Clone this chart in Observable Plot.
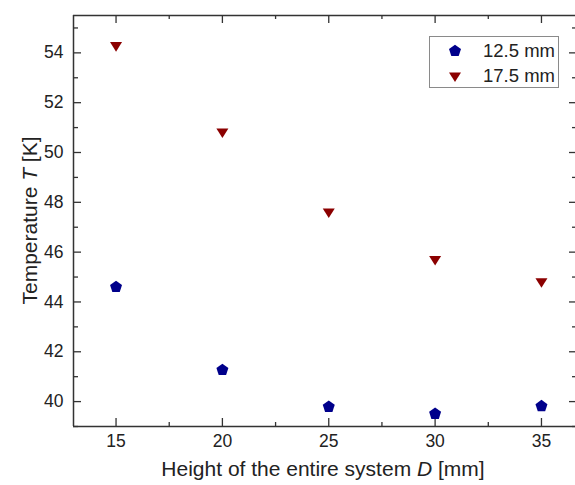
<!DOCTYPE html>
<html>
<head>
<meta charset="utf-8">
<script src="https://cdn.jsdelivr.net/npm/d3@7"></script>
<script src="https://cdn.jsdelivr.net/npm/@observablehq/plot@0.6"></script>
<style>
  html, body { margin: 0; padding: 0; background: #fff; }
  #wrap { position: relative; width: 575px; height: 485px; font-family: "Liberation Sans", Arial, sans-serif; }
  #legend { position: absolute; left: 429px; top: 36px; width: 128px; height: 50px; border: 1px solid #8a8a8a; background: #fff; }
  #legend .row { position: absolute; left: 0; height: 24px; display: flex; align-items: center; font-size: 18.5px; color: #222; }
  #legend svg { position: absolute; left: 16px; }
  #legend span { position: absolute; left: 53px; white-space: nowrap; }
</style>
</head>
<body>
<div id="wrap"></div>
<script>
// Data
const heights = [15, 20, 25, 30, 35];
const temp125 = [44.6, 41.27, 39.79, 39.51, 39.82];
const temp175 = [54.29, 50.82, 47.61, 45.70, 44.81];
const seriesNames = ["12.5 mm", "17.5 mm"];
const xTicks = [15, 20, 25, 30, 35];
const xMinor = [17.5, 22.5, 27.5, 32.5];
const yTicks = [40, 42, 44, 46, 48, 50, 52, 54];
const yMinor = [39, 41, 43, 45, 47, 49, 51, 53, 55];

const blue = "#00008b";
const red = "#8b0000";
const axisColor = "#333";

const pentagon = {
  draw(context, size) {
    const r = Math.sqrt(size / Math.PI);
    for (let k = 0; k < 5; k++) {
      const a = -Math.PI / 2 + k * 2 * Math.PI / 5;
      const px = r * Math.cos(a), py = r * Math.sin(a);
      if (k === 0) context.moveTo(px, py); else context.lineTo(px, py);
    }
    context.closePath();
  }
};
const triDown = {
  draw(context, size) {
    const r = Math.sqrt(size / Math.PI);
    context.moveTo(-r, -0.6 * r);
    context.lineTo(r, -0.6 * r);
    context.lineTo(0, r);
    context.closePath();
  }
};

const rows125 = heights.map((h, i) => ({x: h, y: temp125[i]}));
const rows175 = heights.map((h, i) => ({x: h, y: temp175[i]}));

const W = 575, H = 485;
const mL = 73, mR = 0, mT = 15, mB = 59;
const frameH = H - mT - mB, frameW = W - mL - mR;

const chart = Plot.plot({
  width: W, height: H,
  marginLeft: mL, marginRight: mR, marginTop: mT, marginBottom: mB,
  style: {fontFamily: "Liberation Sans, Arial, sans-serif", color: "#222", background: "#fff"},
  x: {domain: [13, 36.6]},
  y: {domain: [39, 55.5]},
  marks: [
    Plot.ruleX([13], {stroke: axisColor, strokeWidth: 1.5}),
    Plot.ruleY([39], {stroke: axisColor, strokeWidth: 1.5}),
    Plot.ruleY([55.5], {stroke: axisColor, strokeWidth: 1.5}),
    Plot.tickX(xTicks, {x: d => d, insetTop: frameH - 8, stroke: axisColor, strokeWidth: 1.3}),
    Plot.tickX(xMinor, {x: d => d, insetTop: frameH - 4, stroke: axisColor, strokeWidth: 1.3}),
    Plot.tickX(xTicks, {x: d => d, insetBottom: frameH - 8, stroke: axisColor, strokeWidth: 1.3}),
    Plot.tickX(xMinor, {x: d => d, insetBottom: frameH - 4, stroke: axisColor, strokeWidth: 1.3}),
    Plot.tickY(yTicks, {y: d => d, insetRight: frameW - 8, stroke: axisColor, strokeWidth: 1.3}),
    Plot.tickY(yMinor, {y: d => d, insetRight: frameW - 5, stroke: axisColor, strokeWidth: 1.3}),
    Plot.tickY(yTicks, {y: d => d, insetLeft: frameW - 6, stroke: axisColor, strokeWidth: 1.3}),
    Plot.tickY(yMinor, {y: d => d, insetLeft: frameW - 3, stroke: axisColor, strokeWidth: 1.3}),
    Plot.axisX({ticks: xTicks, tickSize: 0, tickPadding: 8, label: null}),
    Plot.axisY({ticks: yTicks, tickSize: 0, tickPadding: 10, label: null}),
    Plot.dot(rows125, {x: "x", y: "y", symbol: pentagon, r: 6.3, fill: blue, stroke: "none"}),
    Plot.dot(rows175, {x: "x", y: "y", symbol: triDown, r: 6, fill: red, stroke: "none"})
  ]
});

const wrap = document.getElementById("wrap");
wrap.appendChild(chart);

const svg = d3.select(chart);
// enlarge tick labels
svg.selectAll("g").filter(function() { const a = this.getAttribute("aria-label") || ""; return a.includes("tick label"); })
  .style("font-size", "17.5px").attr("font-size", 17.5);

const xt = svg.append("text")
  .attr("x", mL + frameW / 2 - 1).attr("y", 476)
  .attr("text-anchor", "middle")
  .attr("font-size", 21).attr("fill", "#222");
xt.append("tspan").text("Height of the entire system ");
xt.append("tspan").attr("font-style", "italic").text("D");
xt.append("tspan").text(" [mm]");

const yt = svg.append("text")
  .attr("transform", `translate(${37},${mT + frameH / 2}) rotate(-90)`)
  .attr("text-anchor", "middle")
  .attr("font-size", 21).attr("fill", "#222");
yt.append("tspan").text("Temperature ");
yt.append("tspan").attr("font-style", "italic").text("T");
yt.append("tspan").text(" [K]");

const legend = document.createElement("div");
legend.id = "legend";
const legendItems = [
  {name: seriesNames[0], color: blue, sym: pentagon, r: 6.3},
  {name: seriesNames[1], color: red, sym: triDown, r: 6}
];
legendItems.forEach((it, i) => {
  const row = document.createElement("div");
  row.className = "row";
  row.style.top = (2 + i * 25) + "px";
  row.style.width = "128px";
  const s = d3.create("svg").attr("width", 18).attr("height", 18).style("top", "3px");
  s.append("path")
    .attr("transform", "translate(9,9)")
    .attr("d", d3.symbol(it.sym, Math.PI * it.r * it.r)())
    .attr("fill", it.color);
  row.appendChild(s.node());
  const sp = document.createElement("span");
  sp.textContent = it.name;
  row.appendChild(sp);
  legend.appendChild(row);
});
wrap.appendChild(legend);
</script>
</body>
</html>
